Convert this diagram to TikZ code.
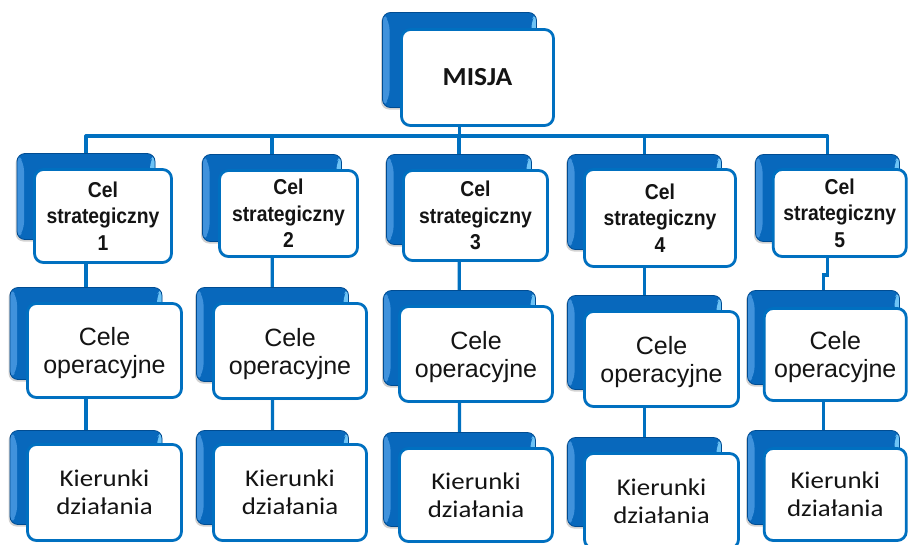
\documentclass[tikz,border=0pt]{standalone}
\usepackage{fontspec}
\setmainfont{Liberation Sans}
\newfontfamily\stratfont[FakeStretch=0.9]{Liberation Sans}
\newfontfamily\kierfont[FakeStretch=1.12]{Carlito}
\newfontfamily\misjafont[FakeStretch=1.06]{Carlito}
\usetikzlibrary{shadows,calc}
\pgfdeclarelayer{bottom}
\pgfdeclarelayer{bg}
\pgfsetlayers{bottom,bg,main}
\definecolor{lineblue}{RGB}{0,112,192}
\definecolor{backblue}{RGB}{8,104,188}
\definecolor{backdark}{RGB}{0,76,146}
\definecolor{bevelblue}{RGB}{64,146,220}
\definecolor{hiblue}{RGB}{110,195,245}
\definecolor{txt}{RGB}{20,20,20}
\tikzset{
  sz/.style 2 args={minimum width=#1pt, minimum height=#2pt},
  backbox/.style={rounded corners=8pt, fill=backblue, draw=backdark, line width=0.8pt, inner sep=0pt,
    drop shadow={shadow xshift=-1.5pt, shadow yshift=-2pt, opacity=0.35},
    path picture={
      \fill[bevelblue] (path picture bounding box.north west)
        -- ([xshift=7pt,yshift=-9pt]path picture bounding box.north west)
        -- ([xshift=7pt,yshift=9pt]path picture bounding box.south west)
        -- (path picture bounding box.south west) -- cycle;
      \fill[hiblue] (path picture bounding box.north east)
        -- ([xshift=-5pt,yshift=-7pt]path picture bounding box.north east)
        -- ([xshift=-5pt,yshift=-22pt]path picture bounding box.north east)
        -- ([yshift=-27pt]path picture bounding box.north east) -- cycle;
    }},
  frontbox/.style={rounded corners=9pt, fill=white, draw=lineblue, line width=2.8pt,
    align=center, inner sep=0pt, text=txt,
    drop shadow={shadow xshift=-1pt, shadow yshift=-1.5pt, opacity=0.2}},
  conn/.style={draw=lineblue, line width=3.2pt},
  misjatxt/.style={font=\misjafont\bfseries\fontsize{26}{30}\selectfont},
  strattxt/.style={font=\stratfont\bfseries\fontsize{21.5}{26.5}\selectfont},
  optxt/.style={font=\fontsize{25}{28}\selectfont, text depth=0pt},
  kiertxt/.style={font=\kierfont\fontsize{24}{28}\selectfont, text depth=0pt},
}
\begin{document}
\begin{tikzpicture}[x=1pt,y=-1pt]
\begin{pgfonlayer}{bottom}
\fill[white] (0,0) rectangle (909,544);
\end{pgfonlayer}
\useasboundingbox (0,0) rectangle (909,544);

% MISJA
\node[backbox, sz={154}{95}] (mb) at (459.5,60) {};
\node[frontbox, misjatxt, sz={152}{96}] (m) at (477.5,77.5) {MISJA};

% Column 1
\node[backbox, sz={138}{86}] (sb1) at (86,196.5) {};
\node[frontbox, strattxt, sz={137}{93}] (s1) at (103,216) {Cel\\strategiczny\\1};
\node[backbox, sz={152}{92}] (ob1) at (86,333.5) {};
\node[frontbox, optxt, sz={154}{94}] (o1) at (104.5,350.5) {Cele\\operacyjne};
\node[backbox, sz={152}{94}] (kb1) at (86,477.5) {};
\node[frontbox, kiertxt, sz={154}{96}] (k1) at (104.5,492.5) {Kierunki\\działania};

% Column 2
\node[backbox, sz={139}{87}] (sb2) at (272,198) {};
\node[frontbox, strattxt, sz={138}{86}] (s2) at (288.5,213.5) {Cel\\strategiczny\\2};
\node[backbox, sz={152}{94}] (ob2) at (272.5,334.5) {};
\node[frontbox, optxt, sz={153}{95}] (o2) at (290,351) {Cele\\operacyjne};
\node[backbox, sz={152}{94}] (kb2) at (272.5,477.5) {};
\node[frontbox, kiertxt, sz={153}{96}] (k2) at (290,492.5) {Kierunki\\działania};

% Column 3
\node[backbox, sz={145}{90}] (sb3) at (459,199.5) {};
\node[frontbox, strattxt, sz={144}{90}] (s3) at (475.5,215.5) {Cel\\strategiczny\\3};
\node[backbox, sz={152}{95}] (ob3) at (459.5,338) {};
\node[frontbox, optxt, sz={153}{95}] (o3) at (476,354) {Cele\\operacyjne};
\node[backbox, sz={152}{94}] (kb3) at (459.5,479.5) {};
\node[frontbox, kiertxt, sz={153}{93}] (k3) at (476,495) {Kierunki\\działania};

% Column 4
\node[backbox, sz={154}{95}] (sb4) at (644.5,202) {};
\node[frontbox, strattxt, sz={151}{97}] (s4) at (660,218) {Cel\\strategiczny\\4};
\node[backbox, sz={154}{94}] (ob4) at (644.5,342.5) {};
\node[frontbox, optxt, sz={154}{95}] (o4) at (661.5,359) {Cele\\operacyjne};
\node[backbox, sz={154}{89}] (kb4) at (644.5,482) {};
\node[frontbox, kiertxt, sz={154}{95}] (k4) at (661.5,501) {Kierunki\\działania};

% Column 5
\node[backbox, sz={144}{87}] (sb5) at (827.5,198) {};
\node[frontbox, strattxt, sz={133}{87}] (s5) at (839.75,213) {Cel\\strategiczny\\5};
\node[backbox, sz={152}{94}] (ob5) at (823.5,337.5) {};
\node[frontbox, optxt, sz={142}{92}] (o5) at (835.25,354.5) {Cele\\operacyjne};
\node[backbox, sz={152}{94}] (kb5) at (823.5,477.5) {};
\node[frontbox, kiertxt, sz={142}{92}] (k5) at (835.25,494.5) {Kierunki\\działania};

% connectors (behind the boxes)
\begin{pgfonlayer}{bg}
  \coordinate (bus) at ($(mb.center)+(0,76)$);
  \draw[conn] (mb.center) -- (bus);
  \foreach \i in {1,...,5}{
    \draw[conn, line join=round] (sb\i.center) |- (bus);
  }
  \draw[conn] (sb1.center) -- (ob1.center) -- (kb1.center);
  \draw[conn] (sb2.center) -- (ob2.center) -- (kb2.center);
  \draw[conn] (sb3.center) -- (ob3.center) -- (kb3.center);
  \draw[conn] (sb4.center) -- (ob4.center) -- (kb4.center);
  \draw[conn] (sb5.center) -- ++(0,77) -| (ob5.center) -- (kb5.center);
\end{pgfonlayer}
\end{tikzpicture}
\end{document}
